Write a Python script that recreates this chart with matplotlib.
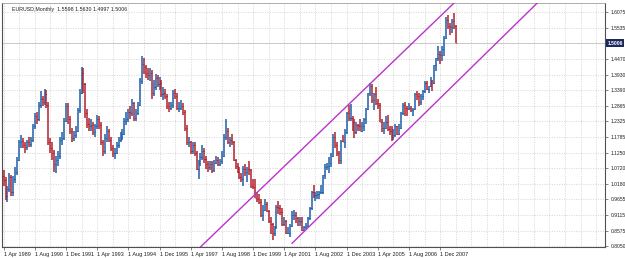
import numpy as np
import matplotlib.pyplot as plt
from matplotlib import transforms

# EURUSD monthly bars, Apr 1989 .. Aug 2008 (open = previous close)
first_open = 1.045
close_1989 = [1.030, 0.975, 1.000, 1.040, 0.990, 1.035, 1.060, 1.100, 1.160]
close_1990 = [1.165, 1.150, 1.145, 1.160, 1.155, 1.170, 1.215, 1.250, 1.240, 1.290, 1.310, 1.300]
close_1991 = [1.325, 1.290, 1.160, 1.140, 1.125, 1.085, 1.100, 1.115, 1.170, 1.175, 1.235, 1.285]
close_1992 = [1.240, 1.200, 1.175, 1.185, 1.200, 1.270, 1.330, 1.400, 1.360, 1.260, 1.225, 1.215]
close_1993 = [1.220, 1.195, 1.215, 1.240, 1.220, 1.160, 1.130, 1.175, 1.200, 1.170, 1.140, 1.125]
close_1994 = [1.125, 1.150, 1.170, 1.180, 1.190, 1.235, 1.240, 1.265, 1.260, 1.295, 1.245, 1.262]
close_1995 = [1.290, 1.370, 1.430, 1.420, 1.400, 1.390, 1.400, 1.330, 1.350, 1.380, 1.360, 1.365]
close_1996 = [1.325, 1.330, 1.320, 1.285, 1.280, 1.290, 1.330, 1.320, 1.280, 1.280, 1.285, 1.265]
close_1997 = [1.210, 1.160, 1.160, 1.130, 1.150, 1.125, 1.070, 1.090, 1.110, 1.130, 1.105, 1.085]
close_1998 = [1.075, 1.085, 1.065, 1.090, 1.100, 1.085, 1.095, 1.115, 1.180, 1.200, 1.160, 1.170]
close_1999 = [1.160, 1.100, 1.080, 1.060, 1.040, 1.035, 1.070, 1.060, 1.070, 1.065, 1.010, 1.007]
close_2000 = [0.970, 0.965, 0.955, 0.910, 0.930, 0.950, 0.925, 0.890, 0.880, 0.850, 0.870, 0.940]
close_2001 = [0.935, 0.920, 0.880, 0.890, 0.850, 0.850, 0.875, 0.910, 0.910, 0.900, 0.890, 0.890]
close_2002 = [0.860, 0.870, 0.872, 0.900, 0.935, 0.990, 0.980, 0.980, 0.985, 0.990, 0.990, 1.050]
close_2003 = [1.075, 1.080, 1.090, 1.115, 1.180, 1.150, 1.125, 1.100, 1.165, 1.160, 1.195, 1.260]
close_2004 = [1.245, 1.245, 1.230, 1.195, 1.220, 1.215, 1.200, 1.215, 1.240, 1.275, 1.330, 1.355]
close_2005 = [1.305, 1.325, 1.295, 1.290, 1.230, 1.210, 1.210, 1.230, 1.205, 1.200, 1.180, 1.185]
close_2006 = [1.215, 1.190, 1.210, 1.260, 1.290, 1.280, 1.275, 1.280, 1.270, 1.275, 1.325, 1.320]
close_2007 = [1.300, 1.320, 1.335, 1.365, 1.345, 1.355, 1.370, 1.365, 1.425, 1.450, 1.465, 1.460]
close_2008 = [1.480, 1.520, 1.580, 1.560, 1.555, 1.575, 1.5598, 1.5006]

high_1989 = [1.065, 1.040, 1.010, 1.055, 1.050, 1.045, 1.075, 1.110, 1.170]
high_1990 = [1.185, 1.175, 1.160, 1.170, 1.180, 1.180, 1.225, 1.260, 1.265, 1.300, 1.335, 1.320]
high_1991 = [1.345, 1.340, 1.300, 1.175, 1.160, 1.135, 1.115, 1.130, 1.180, 1.195, 1.245, 1.295]
high_1992 = [1.295, 1.250, 1.210, 1.200, 1.215, 1.280, 1.345, 1.420, 1.415, 1.365, 1.275, 1.245]
high_1993 = [1.240, 1.230, 1.225, 1.255, 1.250, 1.230, 1.170, 1.190, 1.215, 1.205, 1.180, 1.150]
high_1994 = [1.140, 1.160, 1.180, 1.195, 1.205, 1.245, 1.265, 1.275, 1.285, 1.310, 1.300, 1.275]
high_1995 = [1.300, 1.380, 1.455, 1.450, 1.425, 1.415, 1.415, 1.410, 1.375, 1.395, 1.390, 1.385]
high_1996 = [1.375, 1.350, 1.345, 1.325, 1.300, 1.300, 1.340, 1.345, 1.330, 1.300, 1.305, 1.295]
high_1997 = [1.270, 1.220, 1.180, 1.165, 1.160, 1.160, 1.130, 1.100, 1.125, 1.150, 1.140, 1.115]
high_1998 = [1.095, 1.095, 1.095, 1.100, 1.115, 1.110, 1.105, 1.130, 1.190, 1.240, 1.210, 1.180]
high_1999 = [1.190, 1.165, 1.105, 1.090, 1.075, 1.055, 1.080, 1.085, 1.075, 1.095, 1.070, 1.035]
high_2000 = [1.035, 0.990, 0.985, 0.965, 0.945, 0.965, 0.955, 0.930, 0.905, 0.885, 0.875, 0.945]
high_2001 = [0.960, 0.945, 0.935, 0.905, 0.895, 0.870, 0.880, 0.925, 0.930, 0.920, 0.905, 0.905]
high_2002 = [0.905, 0.875, 0.885, 0.905, 0.940, 0.995, 1.015, 0.990, 0.995, 0.995, 1.015, 1.050]
high_2003 = [1.085, 1.090, 1.110, 1.125, 1.190, 1.195, 1.160, 1.130, 1.170, 1.185, 1.205, 1.265]
high_2004 = [1.290, 1.293, 1.250, 1.240, 1.230, 1.225, 1.240, 1.230, 1.245, 1.280, 1.330, 1.365]
high_2005 = [1.360, 1.330, 1.350, 1.310, 1.295, 1.240, 1.230, 1.250, 1.255, 1.215, 1.215, 1.205]
high_2006 = [1.225, 1.215, 1.225, 1.265, 1.295, 1.300, 1.285, 1.295, 1.285, 1.280, 1.330, 1.335]
high_2007 = [1.330, 1.325, 1.340, 1.370, 1.370, 1.355, 1.385, 1.375, 1.425, 1.450, 1.490, 1.475]
high_2008 = [1.490, 1.525, 1.590, 1.598, 1.570, 1.585, 1.604, 1.5630]

low_1989 = [1.010, 0.962, 0.955, 0.990, 0.975, 0.978, 1.020, 1.050, 1.095]
low_1990 = [1.140, 1.140, 1.125, 1.135, 1.145, 1.145, 1.160, 1.205, 1.225, 1.235, 1.280, 1.285]
low_1991 = [1.290, 1.280, 1.150, 1.125, 1.100, 1.060, 1.055, 1.080, 1.105, 1.150, 1.170, 1.230]
low_1992 = [1.225, 1.190, 1.160, 1.165, 1.175, 1.195, 1.260, 1.325, 1.330, 1.245, 1.210, 1.200]
low_1993 = [1.200, 1.185, 1.180, 1.205, 1.205, 1.150, 1.115, 1.120, 1.160, 1.160, 1.130, 1.110]
low_1994 = [1.105, 1.120, 1.140, 1.160, 1.170, 1.185, 1.220, 1.230, 1.240, 1.250, 1.235, 1.235]
low_1995 = [1.255, 1.285, 1.360, 1.395, 1.380, 1.375, 1.370, 1.310, 1.320, 1.340, 1.350, 1.340]
low_1996 = [1.315, 1.305, 1.310, 1.275, 1.265, 1.270, 1.280, 1.310, 1.270, 1.265, 1.270, 1.255]
low_1997 = [1.200, 1.150, 1.145, 1.120, 1.120, 1.115, 1.065, 1.035, 1.080, 1.100, 1.090, 1.070]
low_1998 = [1.060, 1.065, 1.055, 1.060, 1.085, 1.080, 1.080, 1.085, 1.110, 1.170, 1.155, 1.145]
low_1999 = [1.150, 1.095, 1.070, 1.055, 1.035, 1.025, 1.012, 1.045, 1.025, 1.050, 1.005, 1.000]
low_2000 = [0.970, 0.955, 0.950, 0.905, 0.890, 0.925, 0.920, 0.885, 0.845, 0.825, 0.840, 0.865]
low_2001 = [0.915, 0.910, 0.875, 0.875, 0.845, 0.845, 0.835, 0.870, 0.895, 0.885, 0.875, 0.875]
low_2002 = [0.855, 0.855, 0.865, 0.870, 0.895, 0.930, 0.970, 0.960, 0.965, 0.965, 0.985, 0.985]
low_2003 = [1.035, 1.065, 1.055, 1.075, 1.110, 1.140, 1.115, 1.085, 1.085, 1.160, 1.140, 1.190]
low_2004 = [1.235, 1.235, 1.200, 1.175, 1.190, 1.200, 1.200, 1.195, 1.200, 1.225, 1.270, 1.320]
low_2005 = [1.295, 1.270, 1.290, 1.275, 1.230, 1.195, 1.190, 1.205, 1.200, 1.185, 1.165, 1.170]
low_2006 = [1.180, 1.185, 1.185, 1.205, 1.255, 1.250, 1.250, 1.270, 1.265, 1.250, 1.270, 1.305]
low_2007 = [1.285, 1.290, 1.305, 1.330, 1.340, 1.330, 1.350, 1.335, 1.360, 1.405, 1.440, 1.430]
low_2008 = [1.440, 1.455, 1.515, 1.550, 1.530, 1.535, 1.550, 1.4997]

years = range(1989, 2009)
closes = np.array(sum([globals()["close_%d" % y] for y in years], []))
highs = np.array(sum([globals()["high_%d" % y] for y in years], []))
lows = np.array(sum([globals()["low_%d" % y] for y in years], []))
opens = np.concatenate([[first_open], closes[:-1]])

date_labels = ["1 Apr 1989", "1 Aug 1990", "1 Dec 1991", "1 Apr 1993", "1 Aug 1994",
               "1 Dec 1995", "1 Apr 1997", "1 Aug 1998", "1 Dec 1999", "1 Apr 2001",
               "1 Aug 2002", "1 Dec 2003", "1 Apr 2005", "1 Aug 2006", "1 Dec 2007"]
price_levels = [1.6075, 1.5535, 1.4470, 1.3930, 1.3390, 1.2865, 1.2325, 1.1785,
                1.1250, 1.0720, 1.0180, 0.9655, 0.9115, 0.8575, 0.8050]
bid = 1.5006

# channel trendlines: (bar index, price) anchor pairs
upper_line = [(101, 0.8016), (230, 1.6315)]
lower_line = [(148, 0.8143), (274, 1.6400)]

UP = "#1f5ea8"
DOWN = "#b0202c"
CHANNEL = "#bb33cc"

fig = plt.figure(figsize=(6.25, 2.58), dpi=100)
ax = fig.add_axes([2 / 625, 11 / 258, 603 / 625, 244 / 258])
ax.set_xlim(-0.8, 308.5)
ax.set_ylim(0.8016, 1.6384)

# grid
for x in np.arange(0, 309, 8):
    ax.axvline(x, color="#c8c8c8", lw=0.5, ls=(0, (1.5, 2)), zorder=0)
for p in price_levels + [bid]:
    ax.axhline(p, color="#c8c8c8", lw=0.5, ls=(0, (1.5, 2)), zorder=0)
ax.axhline(bid, color="#c4c4c4", lw=0.6, zorder=1)

idx = np.arange(len(closes))
up = closes >= opens
for mask, col in [(up, UP), (~up, DOWN)]:
    ax.vlines(idx[mask], lows[mask], highs[mask], color=col, lw=1.1, zorder=3)
    ax.hlines(opens[mask], idx[mask] - 0.6, idx[mask], color=col, lw=0.6, zorder=3)
    ax.hlines(closes[mask], idx[mask], idx[mask] + 0.6, color=col, lw=0.6, zorder=3)

# channel rays
for (x1, y1), (x2, y2) in [upper_line, lower_line]:
    slope = (y2 - y1) / (x2 - x1)
    ax.plot([x1, 400], [y1, y1 + slope * (400 - x1)], color=CHANNEL, lw=1.0, zorder=4)

ax.set_xticks(np.arange(0, 16 * len(date_labels), 16))
ax.set_xticklabels(date_labels, fontsize=4, family="Liberation Sans", ha="left", color="#202020")
ax.tick_params(axis="x", length=2, width=0.5, pad=1.5, color="#505050")
ax.yaxis.tick_right()
ax.set_yticks(price_levels)
ax.set_yticklabels(["%.4f" % p for p in price_levels], fontsize=3.6, family="Liberation Sans",
                   color="#202020")
ax.tick_params(axis="y", length=2, width=0.5, pad=2, color="#505050")

for s in ["left", "right", "bottom"]:
    ax.spines[s].set_color("#505050")
    ax.spines[s].set_linewidth(0.8)
ax.spines["top"].set_color("#a0a0a0")
ax.spines["top"].set_linewidth(0.6)

trans = transforms.blended_transform_factory(ax.transAxes, ax.transData)
ax.text(1.004, bid, "1.5006", transform=trans, ha="left", va="center", fontsize=3.6,
        family="Liberation Sans", color="white", fontweight="bold",
        bbox=dict(boxstyle="square,pad=0.25", fc="#1b2a5e", ec="none"))

ax.text(0.016, 0.985, "EURUSD,Monthly  1.5598 1.5630 1.4997 1.5006", transform=ax.transAxes,
        ha="left", va="top", fontsize=3.8, family="Liberation Sans", color="#202020")

fig.savefig("out.png", dpi=100)
